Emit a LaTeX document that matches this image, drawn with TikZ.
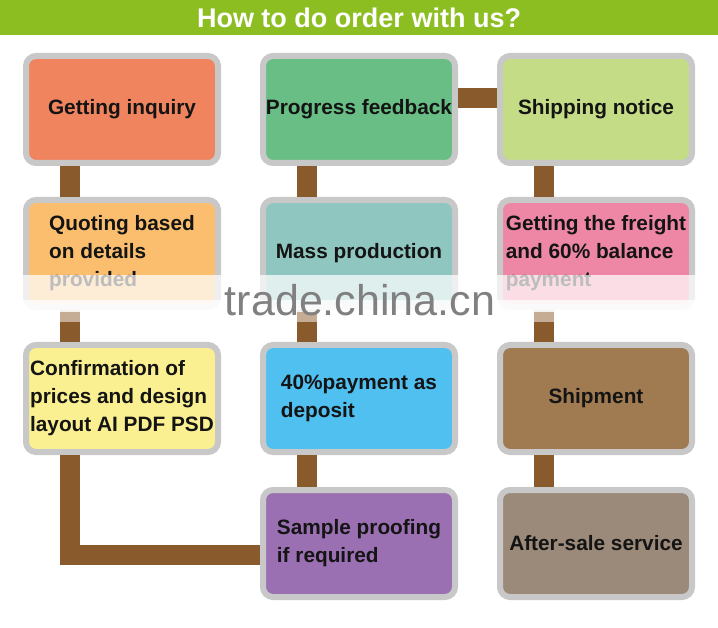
\documentclass[tikz,border=0pt]{standalone}
\usepackage{fontspec}
\setmainfont{Liberation Sans}
\definecolor{titlegreen}{RGB}{140,190,34}
\definecolor{boxgray}{RGB}{200,200,200}
\definecolor{linkbrown}{RGB}{137,90,44}
\definecolor{textdark}{RGB}{20,20,20}
\definecolor{cInquiry}{RGB}{240,132,95}
\definecolor{cProgress}{RGB}{104,190,132}
\definecolor{cNotice}{RGB}{197,220,135}
\definecolor{cQuote}{RGB}{250,190,110}
\definecolor{cMass}{RGB}{143,198,192}
\definecolor{cFreight}{RGB}{238,135,165}
\definecolor{cConfirm}{RGB}{250,240,145}
\definecolor{cDeposit}{RGB}{80,192,240}
\definecolor{cShipment}{RGB}{160,122,80}
\definecolor{cSample}{RGB}{155,112,178}
\definecolor{cAfter}{RGB}{155,138,122}
\begin{document}
\begin{tikzpicture}[x=1pt,y=-1pt,
  stepbox/.style={draw=boxgray, line width=6pt, rounded corners=10pt,
    minimum width=192pt, minimum height=107pt, align=left, inner sep=0pt,
    text=textdark, font=\bfseries\fontsize{20.8}{28}\selectfont},
  link/.style={draw=linkbrown, line width=20pt},
  titletext/.style={text=white, font=\bfseries\fontsize{27}{30}\selectfont},
  watermark/.style={text=black!50, font=\fontsize{43}{46}\selectfont, anchor=base}
]
\useasboundingbox (0,0) rectangle (718,628);
\fill[white] (0,0) rectangle (718,628);
\fill[titlegreen] (0,0) rectangle (718,35);
\node[titletext] (title) at (359,17.5) {How to do order with us?};

% row 1
\node[stepbox, fill=cInquiry]  (inquiry)  at (122,109.5) {Getting inquiry};
\node[stepbox, fill=cProgress] (progress) at (359,109.5) {Progress feedback};
\node[stepbox, fill=cNotice]   (notice)   at (596,109.5) {Shipping notice};
% row 2
\node[stepbox, fill=cQuote]    (quote)    at (122,253.5) {Quoting based\\on details\\provided};
\node[stepbox, fill=cMass]     (mass)     at (359,253.5) {Mass production};
\node[stepbox, fill=cFreight]  (freight)  at (596,253.5) {Getting the freight\\and 60\% balance\\payment};
% row 3
\node[stepbox, fill=cConfirm]  (confirm)  at (122,398.5) {Confirmation of\\prices and design\\layout AI PDF PSD};
\node[stepbox, fill=cDeposit]  (deposit)  at (359,398.5) {40\%payment as\\deposit};
\node[stepbox, fill=cShipment] (shipment) at (596,398.5) {Shipment};
% row 4
\node[stepbox, fill=cSample]   (sample)   at (359,543.5) {Sample proofing\\if required};
\node[stepbox, fill=cAfter]    (after)    at (596,543.5) {After-sale service};

% connectors
\draw[link] ([xshift=47pt]inquiry.south west) -- ([xshift=47pt]quote.north west);
\draw[link] ([xshift=47pt]quote.south west) -- ([xshift=47pt]confirm.north west);
\draw[link] ([xshift=47pt]confirm.south west) |- ([yshift=-11.5pt]sample.west);
\draw[link] ([xshift=47pt]sample.north west) -- ([xshift=47pt]deposit.south west);
\draw[link] ([xshift=47pt]deposit.north west) -- ([xshift=47pt]mass.south west);
\draw[link] ([xshift=47pt]mass.north west) -- ([xshift=47pt]progress.south west);
\draw[link] ([yshift=11.5pt]progress.east) -- ([yshift=11.5pt]notice.west);
\draw[link] ([xshift=47pt]notice.south west) -- ([xshift=47pt]freight.north west);
\draw[link] ([xshift=47pt]freight.south west) -- ([xshift=47pt]shipment.north west);
\draw[link] ([xshift=47pt]shipment.south west) -- ([xshift=47pt]after.north west);

% watermark band
\fill[white, opacity=0.72] (12,275) rectangle (706,300);
\fill[white, opacity=0.92] (12,300) rectangle (706,312);
\fill[white, opacity=0.5] (12,312) rectangle (706,322);
\node[watermark] (wm) at (360,316) {trade.china.cn};
\end{tikzpicture}
\end{document}
